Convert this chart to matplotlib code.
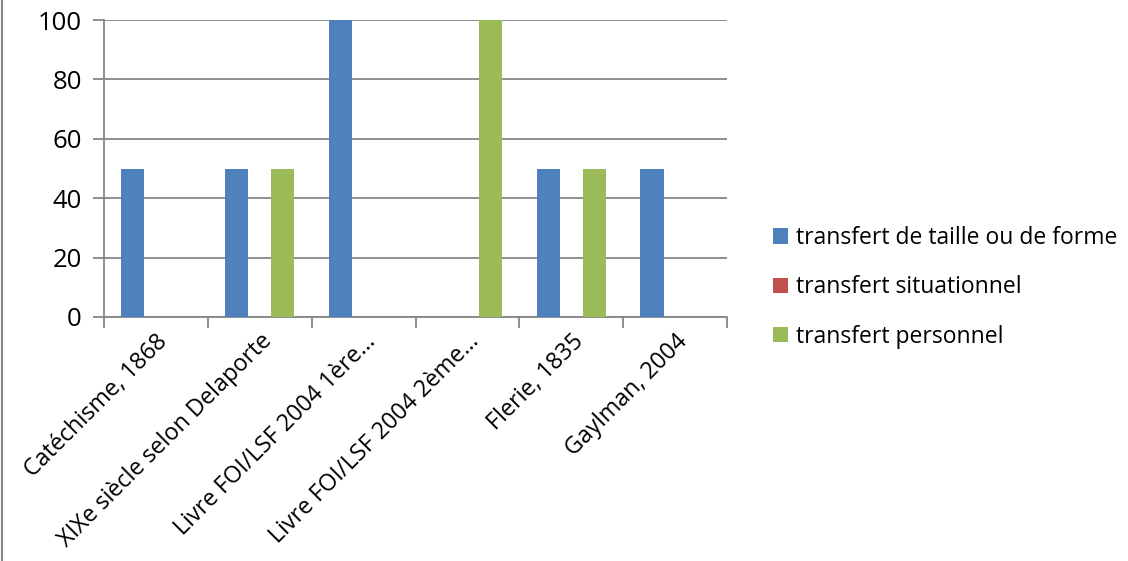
import matplotlib
matplotlib.use("Agg")
import matplotlib.pyplot as plt
import numpy as np
from matplotlib.lines import Line2D

categories = ["Catéchisme, 1868", "XIXe siècle selon Delaporte", "Livre FOI/LSF 2004 1ère…",
              "Livre FOI/LSF 2004 2ème…", "Flerie, 1835", "Gaylman, 2004"]
series_names = ["transfert de taille ou de forme", "transfert situationnel", "transfert personnel"]
taille_forme = [50, 50, 100, 0, 50, 50]
situationnel = [0, 0, 0, 0, 0, 0]
personnel = [0, 50, 0, 100, 50, 0]
colors = ["#4F81BD", "#C0504D", "#9BBB59"]
yticks = [0, 20, 40, 60, 80, 100]

plt.rcParams['font.family'] = ['Open Sans', 'DejaVu Sans']

fig = plt.figure(figsize=(11.28, 5.61), dpi=100)
ax = fig.add_axes([104/1128, 1-317/561, (727-104)/1128, (317-20)/561])

x = np.arange(len(categories))
w = 1/4.5
for i, (vals, name, c) in enumerate(zip([taille_forme, situationnel, personnel], series_names, colors)):
    ax.bar(x + (i-1)*w, vals, width=w, color=c, label=name, zorder=3)

ax.set_xlim(-0.5, len(categories)-0.5)
ax.set_ylim(0, 100)
ax.set_yticks(yticks)
ax.set_yticklabels([str(v) for v in yticks], fontsize=18.5)
ax.yaxis.grid(True, color="#868686", linewidth=1.3, zorder=0)

ax.set_xticks(np.arange(-0.5, len(categories), 1.0))
ax.set_xticklabels([])
ax.set_xticks(x, minor=True)
ax.set_xticklabels(categories, minor=True, rotation=45, ha='right', rotation_mode='anchor', fontsize=16.8)
ax.tick_params(axis='x', which='minor', length=0, pad=9)
ax.tick_params(axis='x', which='major', length=8, width=1.3, color="#868686")
ax.tick_params(axis='y', length=8, width=1.3, color="#868686", pad=8)

for s in ['top', 'right']:
    ax.spines[s].set_visible(False)
for s in ['left', 'bottom']:
    ax.spines[s].set_color("#868686")
    ax.spines[s].set_linewidth(1.3)

leg = fig.legend(loc='upper left', bbox_to_anchor=(764/1128, 1-217/561), frameon=False,
                 fontsize=16.5, handlelength=0.65, handleheight=0.65, handletextpad=0.35,
                 labelspacing=1.1, borderaxespad=0)

fig.add_artist(Line2D([1.5/1128, 1.5/1128], [0, 1], transform=fig.transFigure, color="#868686", linewidth=1.5))

fig.savefig("out.png", dpi=100, facecolor="white")
